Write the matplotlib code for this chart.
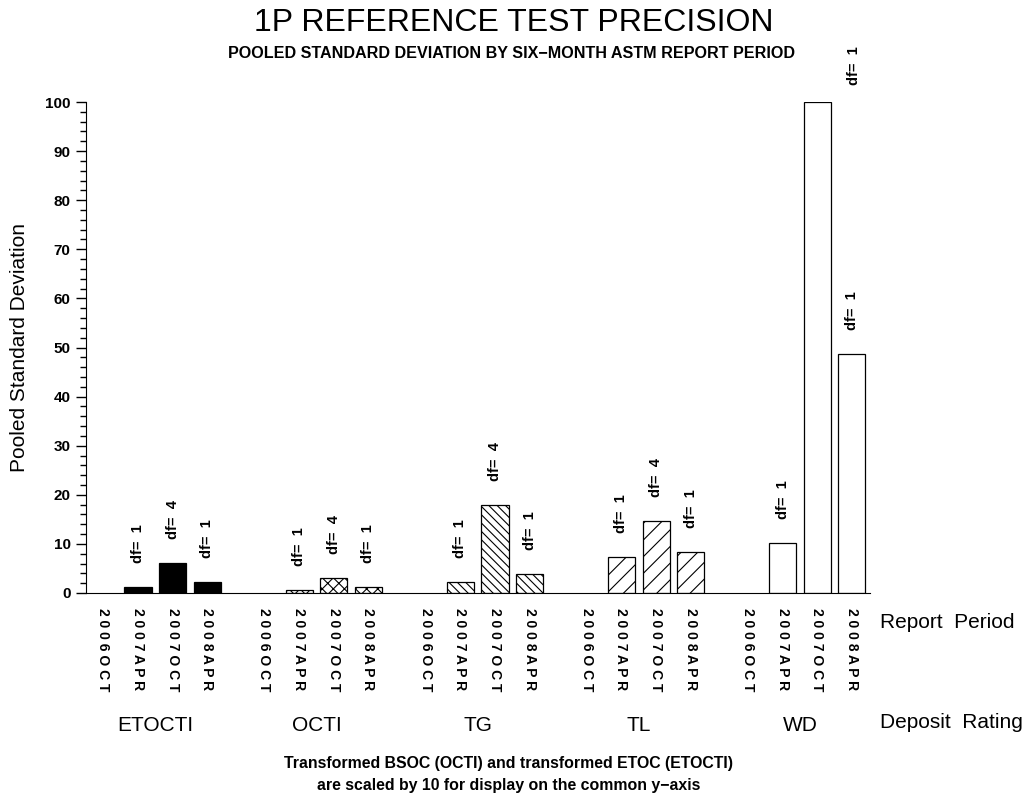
import matplotlib
matplotlib.use('Agg')
import matplotlib.pyplot as plt
from matplotlib.ticker import MultipleLocator

plt.rcParams['font.family'] = ['Liberation Sans', 'DejaVu Sans']
plt.rcParams['hatch.linewidth'] = 0.8

ratings = ['ETOCTI', 'OCTI', 'TG', 'TL', 'WD']
periods = ['2006OCT', '2007APR', '2007OCT', '2008APR']

# pooled standard deviation per period (None = no data)
sd_etocti = [None, 1.2, 6.1, 2.3]
sd_octi = [None, 0.7, 3.0, 1.3]
sd_tg = [None, 2.3, 18.0, 3.9]
sd_tl = [None, 7.4, 14.7, 8.3]
sd_wd = [None, 10.1, 100.0, 48.6]

# degrees of freedom per period
df_etocti = [None, 1, 4, 1]
df_octi = [None, 1, 4, 1]
df_tg = [None, 1, 4, 1]
df_tl = [None, 1, 4, 1]
df_wd = [None, 1, 1, 1]

sds = [sd_etocti, sd_octi, sd_tg, sd_tl, sd_wd]
dfs = [df_etocti, df_octi, df_tg, df_tl, df_wd]

faces = ['black', 'white', 'white', 'white', 'white']
hatches = ['', 'xxx', '\\\\\\\\', '//', '']

step = 4.65   # distance between groups, in bar slots

fig = plt.figure(figsize=(10.23, 7.96), dpi=100)
ax = fig.add_axes([86 / 1023, 1 - 593 / 796, 784 / 1023, 491 / 796])

ticks = []
ticklabels = []
for g, name in enumerate(ratings):
    for i, per in enumerate(periods):
        x = g * step + i
        ticks.append(x)
        ticklabels.append(' '.join(per))
        v = sds[g][i]
        if v is None:
            continue
        ax.bar(x, v, width=0.78, color=faces[g], edgecolor='black',
               hatch=hatches[g], linewidth=0.9)
        if v >= 100:
            off = (37, 17)   # clipped bar: label pushed above the frame
        else:
            off = (0, 24)
        ax.annotate('df=  %d' % dfs[g][i], xy=(x, v), xytext=off,
                    textcoords='offset pixels', rotation=90,
                    ha='center', va='bottom', fontsize=10.5,
                    fontweight='bold', annotation_clip=False)
    ax.text(g * step + 1.5, -0.269, name, transform=ax.get_xaxis_transform(),
            ha='center', va='center', fontsize=15)

ax.set_xlim(-0.5, 4 * step + 3.52)
ax.set_ylim(0, 100)
ax.set_xticks(ticks)
ax.set_xticklabels(ticklabels, rotation=-90, fontsize=10, fontweight='bold')
ax.tick_params(axis='x', length=0, pad=11)

ax.set_yticks(range(0, 101, 10))
ax.yaxis.set_minor_locator(MultipleLocator(2))
ax.tick_params(axis='y', which='major', length=7, width=1, labelsize=11, pad=4)
ax.tick_params(axis='y', which='minor', length=4, width=1)
plt.setp(ax.get_yticklabels(), fontweight='bold')

ax.spines['top'].set_visible(False)
ax.spines['right'].set_visible(False)
ax.set_ylabel('Pooled Standard Deviation', fontsize=15, labelpad=12)

ax.text(1.013, -0.061, 'Report  Period', transform=ax.transAxes,
        ha='left', va='center', fontsize=15)
ax.text(1.013, -0.263, 'Deposit  Rating', transform=ax.transAxes,
        ha='left', va='center', fontsize=15)

fig.text(0.502, 0.971, '1P REFERENCE TEST PRECISION', ha='center', va='center',
         fontsize=23)
fig.text(0.5, 0.933, 'POOLED STANDARD DEVIATION BY SIX\u2212MONTH ASTM REPORT PERIOD',
         ha='center', va='center', fontsize=11.6, fontweight='bold')

fig.text(0.497, 0.027,
         'Transformed BSOC (OCTI) and transformed ETOC (ETOCTI)\n'
         'are scaled by 10 for display on the common y\u2212axis',
         ha='center', va='center', fontsize=11.4, fontweight='bold',
         linespacing=1.55)

fig.savefig('out.png', dpi=100)
